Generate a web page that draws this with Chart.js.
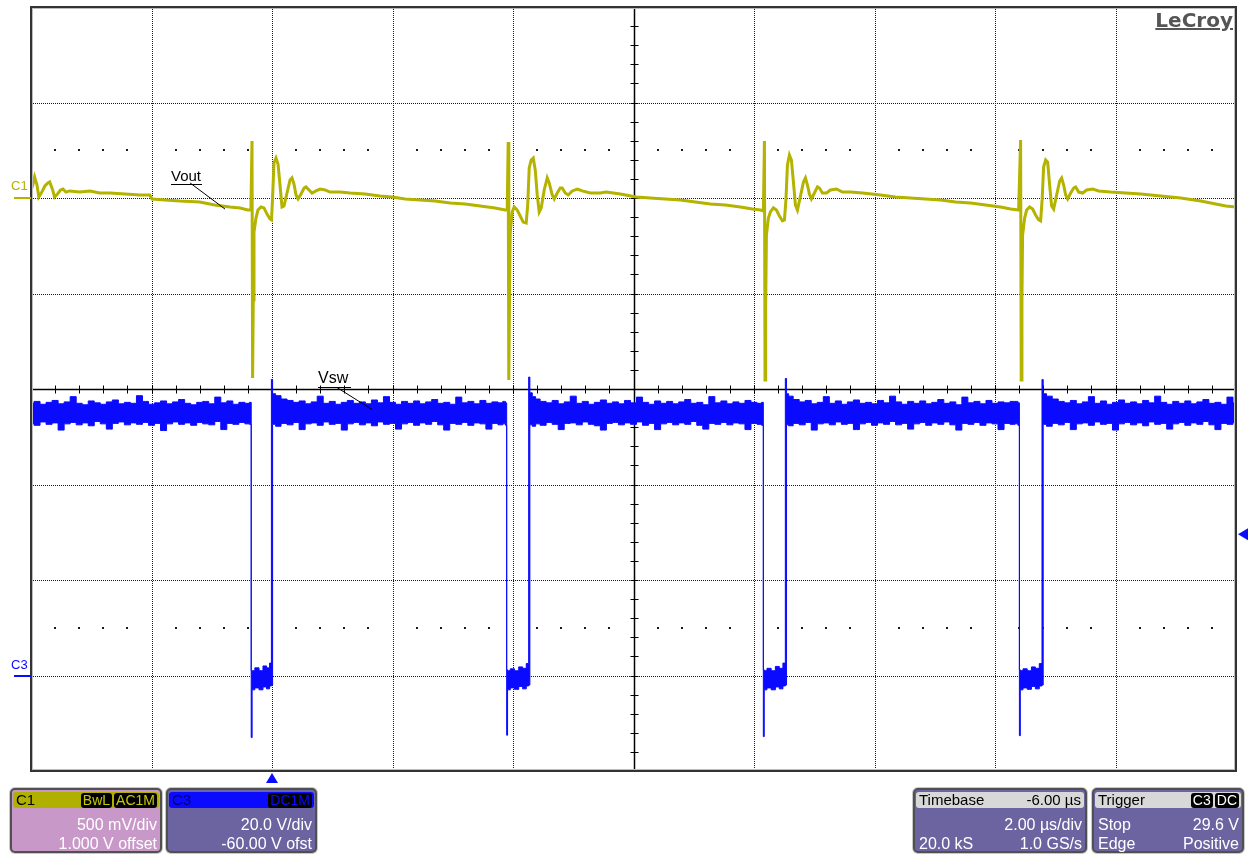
<!DOCTYPE html>
<html>
<head>
<meta charset="utf-8">
<title>Vout / Vsw</title>
<script src="https://cdn.jsdelivr.net/npm/chart.js@4.4.1/dist/chart.umd.min.js"></script>
<style>
  body { margin: 0; background: #fff; font-family: "Liberation Sans", Arial, sans-serif; }
  #wrap { position: relative; width: 1249px; height: 859px; overflow: hidden; }
  #scope { position: absolute; left: 0; top: 0; }
  .lbl { position: absolute; white-space: nowrap; line-height: 1; }
  .box { position: absolute; top: 788px; height: 65px; box-sizing: border-box;
         border: 2px solid #505050; border-radius: 5px; box-shadow: 0 0 0 1px #c8c8c8; }
  .hdr { position: absolute; left: 1px; right: 1px; top: 2px; height: 16px; border-radius: 3px;
         font-size: 15px; line-height: 16px; color: #000; }
  .hdr .l { position: absolute; left: 3px; top: 0; }
  .hdr .r { position: absolute; right: 2px; top: 0; }
  .badge { display: inline-block; background: #000; border-radius: 3px; padding: 0 2px;
           margin-left: 2px; font-size: 14px; line-height: 15px; }
  .row { position: absolute; left: 4px; right: 3px; height: 18px; font-size: 16px;
         line-height: 18px; color: #fff; }
  .row .l { position: absolute; left: 0; }
  .row .r { position: absolute; right: 0; }
  .r1 { top: 26px; }
  .r2 { top: 45px; }
</style>
</head>
<body>
<div id="wrap">
  <canvas id="scope" width="1249" height="859"></canvas>

  <div class="lbl" style="right:16px;top:10px;font-family:'DejaVu Sans',sans-serif;font-weight:bold;font-size:20px;color:#555;text-decoration:underline;text-decoration-thickness:2px">LeCroy</div>
  <div class="lbl" style="left:11px;top:179px;font-size:13px;color:#b3b300">C1</div>
  <div class="lbl" style="left:11px;top:658px;font-size:13px;color:#0a0aff">C3</div>
  <div class="lbl" style="left:171px;top:168px;font-size:15px;color:#000;padding:0 1px 1px 0;border-bottom:1px solid #000">Vout</div>
  <div class="lbl" style="left:318px;top:370px;font-size:16px;color:#000;padding:0 3px 1px 0;border-bottom:1px solid #000">Vsw</div>

  <div class="box" style="left:10px;width:152px;background:#c899c8">
    <div class="hdr" style="background:#b0b000">
      <span class="l">C1</span>
      <span class="r"><span class="badge" style="color:#c8c800">BwL</span><span class="badge" style="color:#c8c800">AC1M</span></span>
    </div>
    <div class="row r1"><span class="r">500 mV/div</span></div>
    <div class="row r2"><span class="r">1.000 V offset</span></div>
  </div>

  <div class="box" style="left:166px;width:151px;background:#6c64a0">
    <div class="hdr" style="background:#0a0aff">
      <span class="l" style="color:#000070">C3</span>
      <span class="r"><span class="badge" style="color:#0a0aff">DC1M</span></span>
    </div>
    <div class="row r1"><span class="r">20.0 V/div</span></div>
    <div class="row r2"><span class="r">-60.00 V ofst</span></div>
  </div>

  <div class="box" style="left:913px;width:174px;background:#6c64a0">
    <div class="hdr" style="background:#d8d8d8">
      <span class="l">Timebase</span>
      <span class="r" style="right:3px">-6.00 µs</span>
    </div>
    <div class="row r1"><span class="r">2.00 µs/div</span></div>
    <div class="row r2"><span class="l">20.0 kS</span><span class="r">1.0 GS/s</span></div>
  </div>

  <div class="box" style="left:1092px;width:152px;background:#6c64a0">
    <div class="hdr" style="background:#d8d8d8">
      <span class="l">Trigger</span>
      <span class="r"><span class="badge" style="color:#fff">C3</span><span class="badge" style="color:#fff">DC</span></span>
    </div>
    <div class="row r1"><span class="l">Stop</span><span class="r">29.6 V</span></div>
    <div class="row r2"><span class="l">Edge</span><span class="r">Positive</span></div>
  </div>
</div>

<script>
// Vout on C1 (AC coupled), time in µs, value in mV
const voutTime = [
  -4.00, -3.97, -3.94, -3.90, -3.87, -3.82, -3.77, -3.72, -3.69, -3.64, -3.61, -3.56, -3.51, -3.47,
  -3.42, -3.36, -3.19, -3.02, -2.86, -2.69, -2.44, -2.19, -2.03, -1.99, -1.78, -1.53, -1.20, -0.95,
  -0.70, -0.53, -0.40, -0.35,
  -0.332, -0.322, -0.311, -0.299, -0.266, -0.233, -0.183, -0.133, -0.083, -0.033, -0.008, 0.008,
  0.033, 0.066, 0.100, 0.133, 0.166, 0.199, 0.249, 0.299, 0.332, 0.365, 0.399, 0.432, 0.482, 0.532,
  0.565, 0.615, 0.664, 0.731, 0.797, 0.880, 0.963, 1.130, 1.296,
  1.545, 1.794, 1.993, 2.209, 2.458, 2.708, 2.957, 3.206, 3.455, 3.704, 3.870, 3.904,
  3.920, 3.930, 3.942, 3.953, 3.987, 4.020, 4.070, 4.120, 4.169, 4.219, 4.244, 4.269, 4.302, 4.336,
  4.369, 4.402, 4.435, 4.468, 4.518, 4.568, 4.601, 4.651, 4.684, 4.734, 4.784, 4.817, 4.867, 4.917,
  4.983, 5.066, 5.150, 5.282, 5.449, 5.548,
  5.781, 6.047, 6.279, 6.528, 6.777, 7.027, 7.276, 7.525, 7.774, 7.973, 8.106, 8.156,
  8.173, 8.183, 8.194, 8.206, 8.239, 8.272, 8.322, 8.372, 8.422, 8.472, 8.505, 8.530, 8.555, 8.588,
  8.621, 8.654, 8.688, 8.721, 8.771, 8.821, 8.854, 8.887, 8.920, 8.953, 9.003, 9.053, 9.086, 9.136,
  9.203, 9.269, 9.369, 9.468, 9.601, 9.801,
  10.100, 10.349, 10.598, 10.847, 11.096, 11.346, 11.595, 11.844, 12.093, 12.259, 12.392,
  12.425, 12.435, 12.447, 12.458, 12.492, 12.525, 12.575, 12.625, 12.674, 12.724, 12.757, 12.782,
  12.807, 12.841, 12.874, 12.907, 12.940, 12.973, 13.023, 13.073, 13.106, 13.140, 13.173, 13.206,
  13.256, 13.306, 13.339, 13.389, 13.455, 13.522, 13.621, 13.721, 13.920, 14.169, 14.419, 14.751,
  15.083, 15.415, 15.664, 15.831, 16.00
];
const voutMv = [
  42, 68, 110, 68, 5, 31, 63, 79, 84, 42, 5, 21, 42, 47,
  31, 37, 31, 37, 26, 26, 21, 16, 16, -5, -10, -16, -21, -37,
  -47, -52, -63, -63,
  298, -942, -534, -178, -105, -63, -47, -52, -84, -110, -115, -10,
  183, 209, 178, 68, -47, -42, 26, 94, 105, 73, 16, -5, 21, 52,
  58, 42, 26, 37, 47, 42, 31, 31, 26,
  21, 10, 5, -5, -10, -16, -26, -31, -42, -52, -63, -63,
  293, -953, -534, -183, -73, -47, -63, -94, -126, -131, -37, 157, 199, 209,
  147, 16, -73, -52, 42, 105, 79, 16, -5, 26, 52, 52, 26, 16,
  37, 47, 37, 26, 26, 31,
  21, 5, 0, -5, -10, -21, -31, -37, -47, -58, -63, -68,
  298, -953, -560, -194, -105, -73, -52, -63, -94, -120, -115, -10, 173, 225,
  199, 84, -37, -63, 10, 84, 105, 68, 21, -5, 26, 58, 52, 26,
  26, 42, 47, 31, 31, 26,
  16, 5, 0, -5, -10, -21, -26, -37, -47, -58, -63,
  304, -953, -534, -194, -105, -63, -47, -58, -89, -115, -120, -10,
  162, 199, 188, 68, -42, -58, 16, 89, 105, 68, 16, -5,
  26, 52, 58, 31, 26, 42, 47, 37, 31, 26, 21, 10,
  0, -16, -31, -42, -47
];

// Vsw on C3, time in µs, noise band read as upper / lower envelope in V
const vswTime = [
  -4.0, -3.9, -3.8, -3.7, -3.6, -3.5, -3.4, -3.3, -3.2, -3.1,
  -3.0, -2.9, -2.8, -2.7, -2.6, -2.5, -2.4, -2.3, -2.2, -2.1,
  -2.0, -1.9, -1.8, -1.7, -1.6, -1.5, -1.4, -1.3, -1.2, -1.1,
  -1.0, -0.9, -0.8, -0.7, -0.6, -0.5, -0.4, -0.35,
  -0.34, -0.32, -0.25, -0.18, -0.12, -0.06, -0.02, 0.00, 0.02,
  0.1, 0.2, 0.3, 0.4, 0.5, 0.6, 0.7, 0.8, 0.9, 1.0,
  1.1, 1.2, 1.3, 1.4, 1.5, 1.6, 1.7, 1.8, 1.9, 2.0,
  2.1, 2.2, 2.3, 2.4, 2.5, 2.6, 2.7, 2.8, 2.9, 3.0,
  3.1, 3.2, 3.3, 3.4, 3.5, 3.6, 3.7, 3.8, 3.86, 3.89,
  3.90, 3.92, 3.99, 4.06, 4.13, 4.19, 4.25, 4.27, 4.29, 4.35,
  4.4, 4.5, 4.6, 4.7, 4.8, 4.9, 5.0, 5.1, 5.2, 5.3,
  5.4, 5.5, 5.6, 5.7, 5.8, 5.9, 6.0, 6.1, 6.2, 6.3,
  6.4, 6.5, 6.6, 6.7, 6.8, 6.9, 7.0, 7.1, 7.2, 7.3,
  7.4, 7.5, 7.6, 7.7, 7.8, 7.9, 8.0, 8.1, 8.15,
  8.16, 8.18, 8.25, 8.32, 8.39, 8.45, 8.51, 8.53, 8.55,
  8.6, 8.7, 8.8, 8.9, 9.0, 9.1, 9.2, 9.3, 9.4, 9.5,
  9.6, 9.7, 9.8, 9.9, 10.0, 10.1, 10.2, 10.3, 10.4, 10.5,
  10.6, 10.7, 10.8, 10.9, 11.0, 11.1, 11.2, 11.3, 11.4, 11.5,
  11.6, 11.7, 11.8, 11.9, 12.0, 12.1, 12.2, 12.3, 12.36, 12.40,
  12.41, 12.43, 12.50, 12.57, 12.64, 12.70, 12.77, 12.79, 12.81,
  12.9, 13.0, 13.1, 13.2, 13.3, 13.4, 13.5, 13.6, 13.7, 13.8,
  13.9, 14.0, 14.1, 14.2, 14.3, 14.4, 14.5, 14.6, 14.7, 14.8,
  14.9, 15.0, 15.1, 15.2, 15.3, 15.4, 15.5, 15.6, 15.7, 15.8,
  15.9, 16.0
];
const vswUpper = [
  57.0, 57.4, 56.8, 57.2, 57.6, 56.9, 57.3, 58.4, 57.0, 56.7,
  57.5, 57.1, 56.8, 57.3, 57.7, 56.9, 57.2, 57.0, 58.6, 57.4,
  56.8, 57.1, 57.5, 56.9, 57.3, 57.8, 57.0, 56.7, 57.2, 57.4,
  56.9, 58.3, 57.1, 57.5, 56.8, 57.2, 57.0, 57.2,
  1.0, 1.0, 1.6, 1.0, 2.0, 1.6, 2.6, 62.0, 59.0,
  58.6, 57.9, 57.6, 57.2, 57.5, 56.9, 57.3, 58.5, 57.0, 57.4,
  56.8, 57.2, 57.6, 57.0, 57.3, 56.9, 57.7, 57.1, 58.4, 57.2,
  56.8, 57.4, 57.0, 57.5, 56.9, 57.3, 57.8, 57.0, 57.2, 56.8,
  58.3, 57.1, 57.4, 56.9, 57.6, 57.0, 57.3, 57.1, 57.4, 57.1,
  1.2, 1.0, 1.4, 1.0, 1.8, 1.5, 2.5, 62.5, 59.2, 58.4,
  57.9, 57.4, 57.1, 57.6, 56.9, 57.3, 58.5, 57.0, 57.4, 56.8,
  57.2, 57.7, 57.0, 57.3, 56.9, 57.6, 57.1, 58.3, 57.2, 56.8,
  57.5, 57.0, 57.4, 56.9, 57.3, 57.8, 57.0, 57.2, 56.7, 58.4,
  57.1, 57.5, 56.9, 57.3, 57.0, 57.6, 57.2, 57.0, 57.2,
  1.2, 1.0, 1.5, 1.0, 1.9, 1.5, 2.6, 62.2, 59.0,
  58.5, 57.8, 57.3, 57.6, 56.9, 57.2, 58.4, 57.0, 57.5, 56.8,
  57.3, 57.7, 57.0, 57.2, 56.9, 57.6, 57.1, 58.5, 57.3, 56.8,
  57.4, 57.0, 57.5, 56.9, 57.2, 57.8, 57.0, 57.3, 56.7, 58.3,
  57.1, 57.4, 56.9, 57.6, 57.0, 57.3, 57.1, 57.4, 57.4, 57.1,
  1.2, 1.0, 1.4, 1.0, 1.8, 1.5, 2.5, 62.0, 59.0,
  58.5, 57.9, 57.4, 57.1, 57.6, 56.9, 57.3, 58.4, 57.0, 57.5,
  56.8, 57.2, 57.7, 57.0, 57.3, 56.9, 57.6, 57.1, 58.5, 57.2,
  56.8, 57.4, 57.0, 57.5, 56.9, 57.3, 57.8, 57.0, 57.2, 56.8,
  58.3, 57.1
];
const vswLower = [
  52.8, 52.4, 53.1, 52.6, 52.9, 51.4, 52.7, 53.0, 52.5, 52.9,
  52.3, 53.2, 52.7, 51.6, 52.8, 53.1, 52.5, 52.9, 52.6, 53.0,
  52.4, 52.8, 51.3, 52.7, 53.1, 52.6, 52.9, 52.4, 53.0, 52.7,
  52.5, 53.2, 51.5, 52.8, 52.6, 53.0, 52.7, 52.6,
  -13.0, -3.0, -2.6, -3.0, -2.4, -2.8, -2.2, -2.0, 52.6,
  52.2, 52.8, 52.5, 53.0, 51.5, 52.7, 52.9, 52.4, 53.1, 52.6,
  52.8, 51.4, 52.7, 53.0, 52.5, 52.9, 52.3, 53.1, 52.6, 52.8,
  51.6, 52.7, 53.0, 52.4, 52.9, 52.6, 53.2, 52.5, 51.4, 52.8,
  52.6, 53.0, 52.4, 52.9, 52.7, 51.6, 52.8, 52.5, 52.7, 52.4,
  -12.5, -3.0, -2.6, -2.9, -2.3, -2.8, -2.2, -2.0, 52.5, 52.2,
  52.7, 52.4, 53.0, 52.6, 51.5, 52.8, 52.9, 52.5, 53.1, 52.6,
  52.3, 51.4, 52.8, 53.0, 52.5, 52.9, 52.6, 53.1, 52.4, 52.8,
  51.5, 52.7, 53.0, 52.5, 52.9, 52.6, 53.2, 52.4, 51.6, 52.8,
  52.6, 53.0, 52.5, 52.9, 52.7, 51.5, 52.8, 52.6, 52.4,
  -12.8, -3.0, -2.6, -3.0, -2.4, -2.8, -2.2, -2.0, 52.5,
  52.3, 52.8, 52.5, 53.0, 51.4, 52.7, 52.9, 52.5, 53.1, 52.6,
  52.8, 51.5, 52.7, 53.0, 52.4, 52.9, 52.6, 53.2, 52.5, 52.8,
  51.6, 52.7, 53.0, 52.4, 52.9, 52.6, 53.1, 52.5, 51.4, 52.8,
  52.6, 53.0, 52.4, 52.9, 52.7, 51.5, 52.8, 52.6, 52.7, 52.4,
  -12.6, -3.0, -2.6, -2.9, -2.3, -2.8, -2.2, -2.0, 52.6,
  52.2, 52.8, 52.5, 53.0, 51.5, 52.7, 52.9, 52.4, 53.1, 52.6,
  52.8, 51.4, 52.7, 53.0, 52.5, 52.9, 52.3, 53.1, 52.6, 52.8,
  51.6, 52.7, 53.0, 52.4, 52.9, 52.6, 53.2, 52.5, 51.5, 52.8,
  52.6, 53.0
];

// screen setup from the scope panels: 2 µs/div, C1 500 mV/div +1 V offset, C3 20 V/div -60 V ofst
const timeDivs = [-4, -2, 0, 2, 4, 6, 8, 10, 12, 14, 16];
const c1Range = [-3000, 1000];
const c3Divs = [-20, 0, 20, 40, 60, 80, 100, 120, 140];
const triggerTime = 0;
const triggerLevel = 29.6;

const YELLOW = "#b3b300";
const BLUE = "#0a0aff";

const pts = (xs, ys) => xs.map((x, i) => ({ x: x, y: ys[i] }));

// grid, centre cross with ticks, channel / trigger markers, label leaders
const scopeGrid = {
  id: "scopeGrid",
  beforeDatasetsDraw(chart) {
    const { ctx, chartArea: a, scales } = chart;
    const x = scales.x, y = scales.yC3;
    const midT = timeDivs[5], midV = c3Divs[4];
    const divT = timeDivs[1] - timeDivs[0], divV = c3Divs[1] - c3Divs[0];
    ctx.save();
    ctx.strokeStyle = "#1a1a1a";
    ctx.lineWidth = 1;
    ctx.setLineDash([1, 1]);
    timeDivs.slice(1, -1).forEach((t) => {
      if (t === midT) return;
      const px = Math.round(x.getPixelForValue(t)) + 0.5;
      ctx.beginPath(); ctx.moveTo(px, a.top); ctx.lineTo(px, a.bottom); ctx.stroke();
    });
    c3Divs.slice(1, -1).forEach((v) => {
      if (v === midV) return;
      const py = Math.round(y.getPixelForValue(v)) + 0.5;
      ctx.beginPath(); ctx.moveTo(a.left, py); ctx.lineTo(a.right, py); ctx.stroke();
    });
    ctx.setLineDash([]);

    // rows of dots 2.5 div above / below centre
    ctx.fillStyle = "#1a1a1a";
    [midV + 2.5 * divV, midV - 2.5 * divV].forEach((v) => {
      const py = Math.round(y.getPixelForValue(v));
      for (let k = 1; k < 50; k++) {
        if (k % 5 === 0) continue;
        const px = Math.round(x.getPixelForValue(timeDivs[0] + k * divT / 5));
        ctx.fillRect(px - 1, py - 1, 2, 2);
      }
    });

    // centre cross
    const cx = Math.round(x.getPixelForValue(midT)) + 0.5;
    const cy = Math.round(y.getPixelForValue(midV)) + 0.5;
    ctx.strokeStyle = "#000";
    ctx.lineWidth = 1.5;
    ctx.beginPath();
    ctx.moveTo(a.left, cy); ctx.lineTo(a.right, cy);
    ctx.moveTo(cx, a.top); ctx.lineTo(cx, a.bottom);
    ctx.stroke();
    ctx.lineWidth = 1;
    ctx.beginPath();
    for (let k = 1; k < 50; k++) {
      const px = Math.round(x.getPixelForValue(timeDivs[0] + k * divT / 5)) + 0.5;
      ctx.moveTo(px, cy - 4); ctx.lineTo(px, cy + 4);
    }
    for (let k = 1; k < 40; k++) {
      const py = Math.round(y.getPixelForValue(c3Divs[0] + k * divV / 5)) + 0.5;
      ctx.moveTo(cx - 4, py); ctx.lineTo(cx + 4, py);
    }
    ctx.stroke();
    ctx.restore();
  },
  afterDatasetsDraw(chart) {
    const { ctx, chartArea: a, scales } = chart;
    ctx.save();
    // frame
    ctx.strokeStyle = "#bdbdbd";
    ctx.lineWidth = 1;
    ctx.strokeRect(a.left + 1.5, a.top + 1.5, a.right - a.left - 3, a.bottom - a.top - 3);
    ctx.strokeStyle = "#333";
    ctx.lineWidth = 2;
    ctx.strokeRect(a.left, a.top, a.right - a.left, a.bottom - a.top);

    // channel ground markers
    ctx.lineWidth = 2;
    const y1 = Math.round(scales.yC1.getPixelForValue(0));
    const y3 = Math.round(scales.yC3.getPixelForValue(0));
    ctx.strokeStyle = YELLOW;
    ctx.beginPath(); ctx.moveTo(a.left - 17, y1); ctx.lineTo(a.left, y1); ctx.stroke();
    ctx.strokeStyle = BLUE;
    ctx.beginPath(); ctx.moveTo(a.left - 17, y3); ctx.lineTo(a.left, y3); ctx.stroke();

    // trigger level (right) and trigger position (bottom) arrows
    ctx.fillStyle = BLUE;
    const ty = scales.yC3.getPixelForValue(triggerLevel);
    ctx.beginPath();
    ctx.moveTo(a.right + 2, ty); ctx.lineTo(a.right + 12, ty - 6); ctx.lineTo(a.right + 12, ty + 6);
    ctx.closePath(); ctx.fill();
    const tx = scales.x.getPixelForValue(triggerTime);
    ctx.beginPath();
    ctx.moveTo(tx, a.bottom + 2); ctx.lineTo(tx - 6, a.bottom + 12); ctx.lineTo(tx + 6, a.bottom + 12);
    ctx.closePath(); ctx.fill();

    // label leaders
    ctx.strokeStyle = "#000";
    ctx.lineWidth = 1;
    ctx.beginPath();
    ctx.moveTo(scales.x.getPixelForValue(-1.36), scales.yC1.getPixelForValue(79));
    ctx.lineTo(scales.x.getPixelForValue(-0.78), scales.yC1.getPixelForValue(-58));
    ctx.moveTo(scales.x.getPixelForValue(1.08), scales.yC3.getPixelForValue(60.3));
    ctx.lineTo(scales.x.getPixelForValue(1.66), scales.yC3.getPixelForValue(55.7));
    ctx.stroke();
    ctx.restore();
  }
};

new Chart(document.getElementById("scope").getContext("2d"), {
  type: "line",
  data: {
    datasets: [
      {
        label: "Vout",
        data: pts(voutTime, voutMv),
        yAxisID: "yC1",
        borderColor: YELLOW,
        borderWidth: 3,
        pointRadius: 0,
        tension: 0,
        fill: false
      },
      {
        label: "Vsw",
        data: pts(vswTime, vswUpper),
        yAxisID: "yC3",
        borderColor: BLUE,
        backgroundColor: BLUE,
        borderWidth: 1,
        pointRadius: 0,
        stepped: "middle",
        fill: "+1"
      },
      {
        label: "Vsw low",
        data: pts(vswTime, vswLower),
        yAxisID: "yC3",
        borderColor: BLUE,
        borderWidth: 1,
        pointRadius: 0,
        stepped: "middle",
        fill: false
      }
    ]
  },
  options: {
    responsive: false,
    devicePixelRatio: 1,
    animation: false,
    layout: { padding: { left: 31, top: 7, right: 13, bottom: 88 } },
    plugins: { legend: { display: false }, tooltip: { enabled: false } },
    scales: {
      x: { type: "linear", min: timeDivs[0], max: timeDivs[timeDivs.length - 1], display: false },
      yC1: { type: "linear", min: c1Range[0], max: c1Range[1], display: false },
      yC3: { type: "linear", min: c3Divs[0], max: c3Divs[c3Divs.length - 1], display: false }
    }
  },
  plugins: [scopeGrid]
});
</script>
</body>
</html>
